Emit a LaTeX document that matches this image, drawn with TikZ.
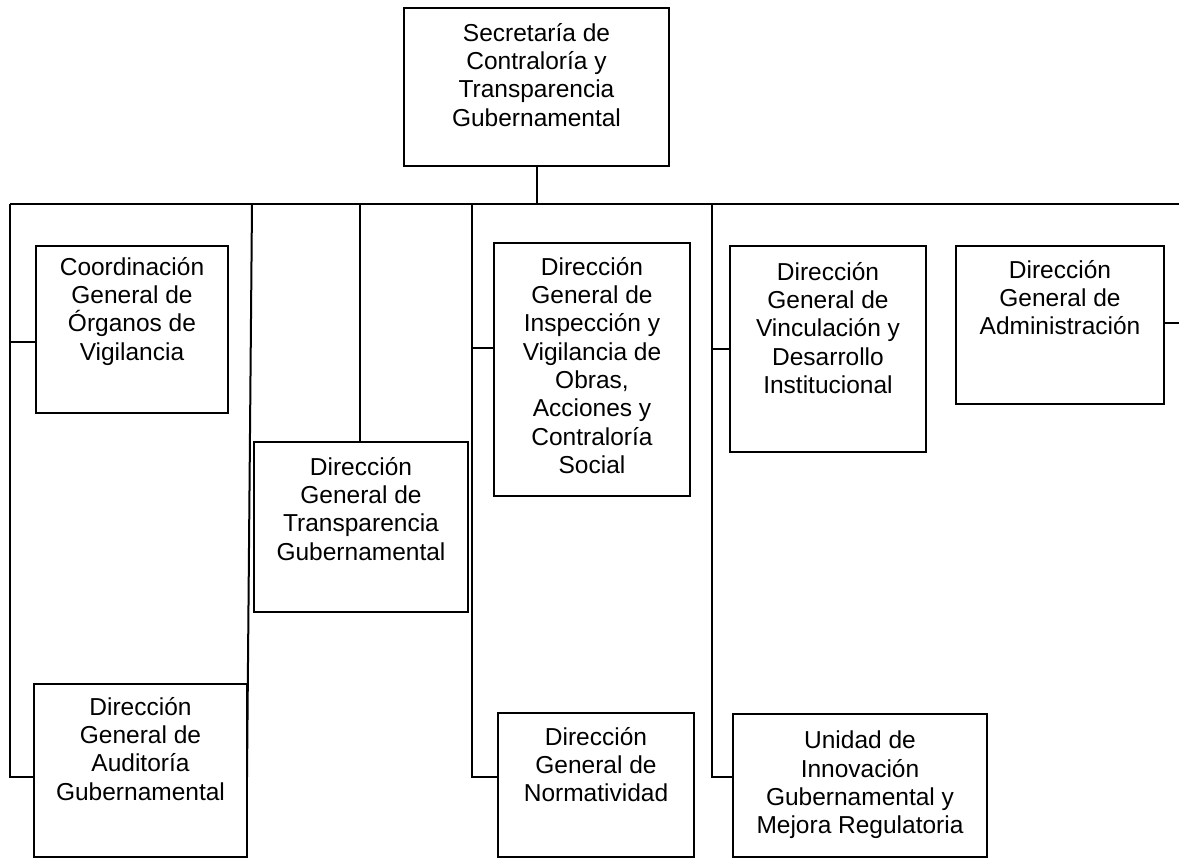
\documentclass[tikz,border=0pt]{standalone}
\usepackage{fontspec}
\setmainfont{Liberation Sans}
\begin{document}
\begin{tikzpicture}[x=1pt,y=-1pt,
  box/.style={draw, line width=2pt, inner sep=0pt, outer sep=0pt, anchor=north west},
  txt/.style={anchor=north, inner sep=0pt, align=center, font={\fontsize{24.5}{28.3}\selectfont}},
  conn/.style={line width=2pt}]
\useasboundingbox (0,0) rectangle (1179,858);
% boxes
\node[box, minimum width=265pt, minimum height=158pt] (top) at (404,8) {};
\node[box, minimum width=192pt, minimum height=167pt] (cgov) at (36,246) {};
\node[box, minimum width=213pt, minimum height=173pt] (audit) at (34,684) {};
\node[box, minimum width=214pt, minimum height=170pt] (transp) at (254,442) {};
\node[box, minimum width=196pt, minimum height=253pt] (insp) at (494,243) {};
\node[box, minimum width=196pt, minimum height=144pt] (norm) at (498,713) {};
\node[box, minimum width=196pt, minimum height=206pt] (vinc) at (730,246) {};
\node[box, minimum width=254pt, minimum height=143pt] (unidad) at (733,714) {};
\node[box, minimum width=208pt, minimum height=158pt] (admin) at (956,246) {};
% texts
\node[txt] (top-t) at ([yshift=-15pt]top.north) {Secretaría de\\Contraloría y\\Transparencia\\Gubernamental};
\node[txt] (cgov-t) at ([yshift=-11pt]cgov.north) {Coordinación\\General de\\Órganos de\\Vigilancia};
\node[txt] (audit-t) at ([yshift=-13pt]audit.north) {Dirección\\General de\\Auditoría\\Gubernamental};
\node[txt] (transp-t) at ([yshift=-15pt]transp.north) {Dirección\\General de\\Transparencia\\Gubernamental};
\node[txt] (insp-t) at ([yshift=-14pt]insp.north) {Dirección\\General de\\Inspección y\\Vigilancia de\\Obras,\\Acciones y\\Contraloría\\Social};
\node[txt] (norm-t) at ([yshift=-14pt]norm.north) {Dirección\\General de\\Normatividad};
\node[txt] (vinc-t) at ([yshift=-16pt]vinc.north) {Dirección\\General de\\Vinculación y\\Desarrollo\\Institucional};
\node[txt] (unidad-t) at ([yshift=-17pt]unidad.north) {Unidad de\\Innovación\\Gubernamental y\\Mejora Regulatoria};
\node[txt] (admin-t) at ([yshift=-14pt]admin.north) {Dirección\\General de\\Administración};
% bus
\coordinate (busL) at (10,204);
\coordinate (busR) at (1179,204);
\coordinate (d2) at (252,204);
\coordinate (d3) at (360,204);
\coordinate (d4) at (472,204);
\coordinate (d5) at (712,204);
\coordinate (e2) at (247,777);
\draw[conn] (top.south) -- (top.south |- busL);
\draw[conn] (busL) -- (busR);
% drops
\draw[conn] (busL) -- (busL |- 0,777) -- (audit.west |- 0,777);
\draw[conn] (busL |- 0,342) -- (cgov.west |- 0,342);
\draw[conn] (d2) -- (e2);
\draw[conn] (d3) -- (transp.north -| d3);
\draw[conn] (d4) -- (d4 |- 0,777) -- (norm.west |- 0,777);
\draw[conn] (d4 |- 0,348) -- (insp.west |- 0,348);
\draw[conn] (d5) -- (d5 |- 0,777) -- (unidad.west |- 0,777);
\draw[conn] (d5 |- 0,349) -- (vinc.west |- 0,349);
\draw[conn] (admin.east |- 0,323) -- (1179,323);
\end{tikzpicture}
\end{document}
